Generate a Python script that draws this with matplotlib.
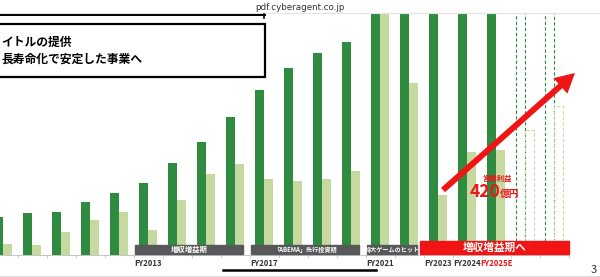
import matplotlib
matplotlib.use('Agg')
import matplotlib.pyplot as plt
import numpy as np
from matplotlib.patches import Rectangle
from matplotlib.transforms import blended_transform_factory

plt.rcParams['font.family'] = ['Noto Sans CJK JP', 'DejaVu Sans']

# data (億円; the tallest bars run off the top)
years = ['FY2008', 'FY2009', 'FY2010', 'FY2011', 'FY2012', 'FY2013', 'FY2014',
         'FY2015', 'FY2016', 'FY2017', 'FY2018', 'FY2019', 'FY2020', 'FY2021',
         'FY2022', 'FY2023', 'FY2024', 'FY2025E']
sales = [152, 168, 172, 212, 248, 288, 368, 452, 552, 660, 748, 808, 852,
         1300, 1350, 1250, 1200, 1250]
profit = [44, 40, 92, 140, 172, 100, 220, 324, 364, 304, 296, 304, 336,
          1000, 688, 240, 412, 420]
future_years = ['FY2026E', 'FY2027E']
future_sales = [1300, 1400]
future_profit = [500, 596]
shown_labels = ['FY2013', 'FY2017', 'FY2021', 'FY2023', 'FY2024', 'FY2025E']
phases = [('増収増益期', 'FY2013', 'FY2016'),
          ('「ABEMA」先行投資期', 'FY2017', 'FY2020'),
          ('特大ゲームのヒット', 'FY2021', 'FY2022')]
growth_phase = ('増収増益期へ', 'FY2023', 'FY2027E')

dark = '#2e8b3f'
light = '#c6d9a1'
red = '#f01414'
grey = '#58585a'

W, H = 600, 277
fig = plt.figure(figsize=(6, 2.77), dpi=100)
ax = fig.add_axes([0, 22 / H, 1, 242 / H])

all_years = years + future_years
x = np.arange(len(years))
xf = np.arange(len(years), len(all_years))
bw = 0.31
ax.bar(x - bw / 2, sales, bw, color=dark)
ax.bar(x + bw / 2, profit, bw, color=light)
ax.bar(xf - bw / 2, future_sales, bw, fill=False, edgecolor=dark, lw=0.8, ls=(0, (3, 2)))
ax.bar(xf + bw / 2, future_profit, bw, fill=False, edgecolor=light, lw=0.8, ls=(0, (3, 2)))

for s in ['top', 'left', 'right']:
    ax.spines[s].set_visible(False)
ax.spines['bottom'].set_color('#bbbbbb')
ax.spines['bottom'].set_linewidth(0.6)
ax.spines['bottom'].set_bounds(-1, len(all_years) - 0.5)
ax.set_yticks([])
ax.set_xticks([all_years.index(l) for l in shown_labels])
ax.set_xticklabels(shown_labels, fontsize=5.6, fontweight='bold', color='#333333')
ax.get_xticklabels()[-1].set_color(red)
ax.tick_params(axis='x', length=0, pad=3)
ax.set_xticks(np.arange(0.5, len(all_years)), minor=True)
ax.tick_params(axis='x', which='minor', length=2, width=0.5, color='#bbbbbb')
ax.set_xlim(-3 / 29, 597 / 29)
ax.set_ylim(0, 968)

# phase bands
tr = blended_transform_factory(ax.transData, ax.transAxes)
for label, a, b in phases:
    x0 = all_years.index(a) - 0.45
    x1 = all_years.index(b) + 0.28
    ax.add_patch(Rectangle((x0, 1 / 242), x1 - x0, 9 / 242, transform=tr,
                           color=grey, clip_on=False, zorder=3))
    fs = 5.3 if label == '増収増益期' else 4.4
    ax.text((x0 + x1) / 2, 5.5 / 242, label, transform=tr, ha='center', va='center',
            color='white', fontsize=fs, fontweight='bold', zorder=4)
label, a, b = growth_phase
x0 = all_years.index(a) - 0.62
x1 = all_years.index(b) + 0.5
ax.add_patch(Rectangle((x0, 1 / 242), x1 - x0, 13 / 242, transform=tr,
                       color=red, clip_on=False, zorder=3))
ax.text((x0 + x1) / 2, 7.5 / 242, label, transform=tr, ha='center', va='center',
        color='white', fontsize=7.7, fontweight='bold', zorder=4)

# red arrow and profit callout
ax.annotate('', xy=(575, H - 73), xytext=(443, H - 190), xycoords='figure pixels',
            textcoords='figure pixels',
            arrowprops=dict(facecolor=red, edgecolor='none', width=4.3,
                            headwidth=15, headlength=14, shrink=0), zorder=5)
fig.text(497 / W, 1 - 178 / H, '営業利益', color=red, fontsize=5.3, fontweight='bold',
         ha='center', va='center')
fig.text(500 / W, 1 - 197 / H, '420', color=red, fontsize=12.5, fontweight='bold',
         ha='right', va='baseline')
fig.text(500 / W, 1 - 197 / H, '億円', color=red, fontsize=7, fontweight='bold',
         ha='left', va='baseline')

# slide header and page chrome
fig.add_artist(plt.Line2D([0, 1], [1 - 12.5 / H] * 2, color='#e4e4e4', lw=0.8))
fig.text(300 / W, 1 - 7.5 / H, 'pdf.cyberagent.co.jp', fontsize=6.3, color='#333333',
         ha='center', va='center', family='DejaVu Sans')
fig.add_artist(plt.Line2D([0, 265 / W], [1 - 15 / H] * 2, color='black', lw=1.4))
fig.add_artist(plt.Line2D([264 / W] * 2, [1 - 13.5 / H, 1 - 17.5 / H], color='black', lw=1.2))
fig.add_artist(Rectangle((-5 / W, 1 - 77 / H), 270 / W, 53 / H, transform=fig.transFigure,
                         facecolor='white', edgecolor='black', lw=1.6))
fig.text(1 / W, 1 - 42 / H, 'イトルの提供', fontsize=8.5, fontweight='bold',
         ha='left', va='center')
fig.text(1 / W, 1 - 59 / H, '長寿命化で安定した事業へ', fontsize=8.5, fontweight='bold',
         ha='left', va='center')
fig.add_artist(plt.Line2D([223 / W, 376 / W], [1 - 270 / H] * 2, color='black', lw=1.8))
fig.add_artist(plt.Line2D([0, 1], [1 - 275.5 / H] * 2, color='#dddddd', lw=0.8))
fig.text(591 / W, 1 - 270 / H, '3', fontsize=8, color='#333333', ha='left', va='center')

fig.savefig('out.png', dpi=100)
